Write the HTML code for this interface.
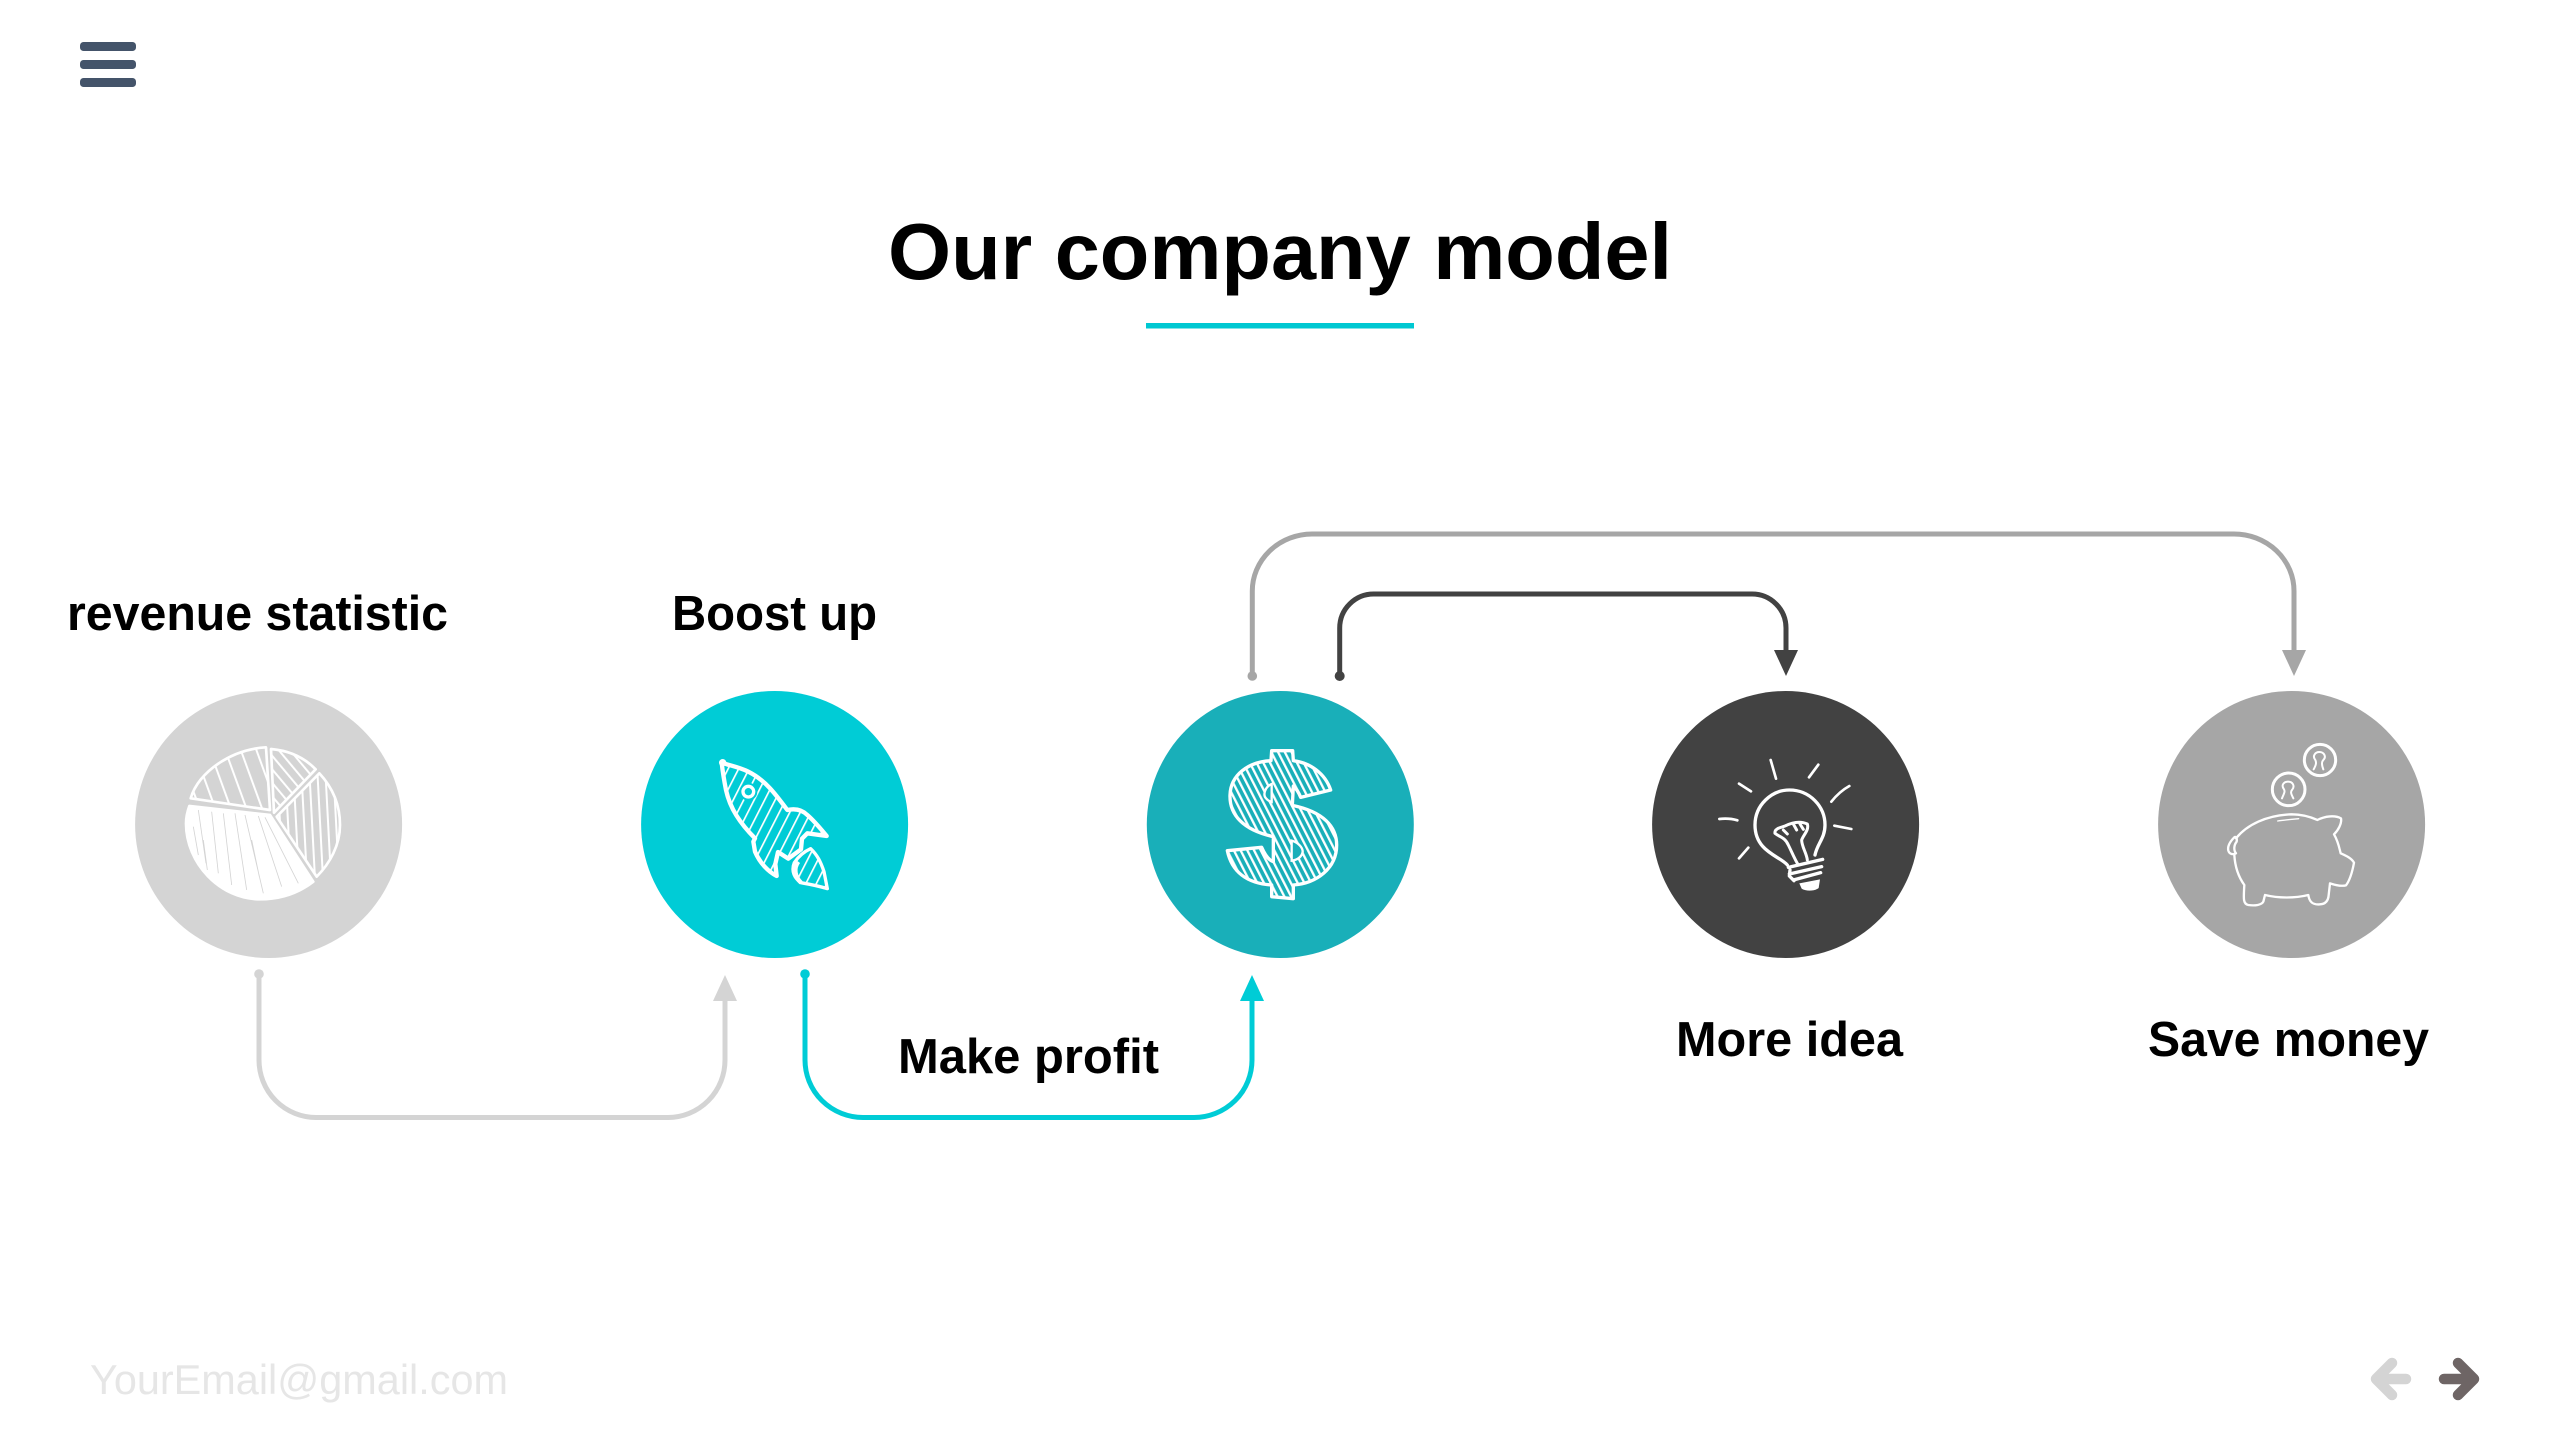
<!DOCTYPE html>
<html lang="en">
<head>
<meta charset="utf-8">
<title>Our company model</title>
<style>
html,body{margin:0;padding:0;background:#fff;width:2560px;height:1440px;overflow:hidden}
svg{display:block}
text{font-family:"Liberation Sans",sans-serif;font-weight:700;fill:#000}
</style>
</head>
<body>
<svg width="2560" height="1440" viewBox="0 0 2560 1440" xmlns="http://www.w3.org/2000/svg">
<defs>
<pattern id="pa" width="44" height="44" patternUnits="userSpaceOnUse" patternTransform="rotate(-20)"><rect width="6" height="44" fill="#fff"/></pattern>
<pattern id="pb" width="26" height="26" patternUnits="userSpaceOnUse" patternTransform="rotate(-40)"><rect width="6" height="26" fill="#fff"/></pattern>
<pattern id="pc" width="24" height="24" patternUnits="userSpaceOnUse" patternTransform="rotate(-3)"><rect width="6" height="24" fill="#fff"/></pattern>
<pattern id="pr" width="28" height="28" patternUnits="userSpaceOnUse" patternTransform="rotate(27)"><rect width="5" height="28" fill="#fff"/></pattern>
<pattern id="pd" width="18" height="18" patternUnits="userSpaceOnUse" patternTransform="rotate(-27)"><rect width="7" height="18" fill="#fff"/></pattern>
</defs>

<!-- hamburger -->
<g fill="#44546a">
<rect x="80" y="42" width="56" height="9" rx="3.5"/>
<rect x="80" y="60" width="56" height="9" rx="3.5"/>
<rect x="80" y="78" width="56" height="9" rx="3.5"/>
</g>

<!-- title -->
<text x="888" y="279" font-size="80" textLength="784" lengthAdjust="spacingAndGlyphs">Our company model</text>
<rect x="1146" y="323" width="268" height="5.5" fill="#00c8d2"/>

<!-- labels -->
<text x="67" y="630" font-size="49" textLength="381" lengthAdjust="spacingAndGlyphs">revenue statistic</text>
<text x="672" y="630" font-size="49" textLength="205" lengthAdjust="spacingAndGlyphs">Boost up</text>
<text x="898" y="1073" font-size="49" textLength="261" lengthAdjust="spacingAndGlyphs">Make profit</text>
<text x="1676" y="1056" font-size="49" textLength="227" lengthAdjust="spacingAndGlyphs">More idea</text>
<text x="2148" y="1056" font-size="49" textLength="281" lengthAdjust="spacingAndGlyphs">Save money</text>

<!-- circles -->
<circle cx="268.6" cy="824.5" r="133.5" fill="#d4d4d4"/>
<circle cx="774.6" cy="824.5" r="133.5" fill="#00ccd6"/>
<circle cx="1280.3" cy="824.5" r="133.5" fill="#19afb9"/>
<circle cx="1785.6" cy="824.5" r="133.5" fill="#424242"/>
<circle cx="2291.6" cy="824.5" r="133.5" fill="#a6a6a6"/>

<!-- connectors -->
<g fill="none" stroke-width="5">
<path d="M259 974V1060A57 57.5 0 0 0 316 1117.5H668A57 57.5 0 0 0 725 1060V1000" stroke="#d4d4d4"/>
<path d="M805 974V1060A58 57.5 0 0 0 863 1117.5H1194A58 57.5 0 0 0 1252 1060V1000" stroke="#00ccd6"/>
<path d="M1252.3 676V591A60 57 0 0 1 1312 534H2234A60 57 0 0 1 2294 591V651" stroke="#a6a6a6"/>
<path d="M1339.7 676V628A34 34 0 0 1 1374 594H1752A34 34 0 0 1 1786 628V651" stroke="#424242"/>
</g>
<circle cx="259" cy="974" r="4.8" fill="#d4d4d4"/>
<circle cx="805" cy="974" r="4.8" fill="#00ccd6"/>
<circle cx="1252.3" cy="676" r="4.8" fill="#a6a6a6"/>
<circle cx="1339.7" cy="676" r="5" fill="#424242"/>
<polygon points="725,975 737,1001 713,1001" fill="#d4d4d4"/>
<polygon points="1252,975 1264,1001 1240,1001" fill="#00ccd6"/>
<polygon points="1786,676 1798,650 1774,650" fill="#424242"/>
<polygon points="2294,676 2306,650 2282,650" fill="#a6a6a6"/>

<!-- pie icon -->
<g transform="translate(170 730) scale(.33333)" stroke="#fff" stroke-width="8" stroke-linejoin="round">
<path d="M62 205C85 125 185 58 288 52L300 240Z" fill="url(#pa)"/>
<path d="M303 57C360 62 405 85 437 118L312 248Z" fill="url(#pb)"/>
<path d="M448 130C490 175 510 225 510 285C510 345 480 400 440 440L320 260Z" fill="url(#pc)"/>
<path d="M58 228L300 255L430 455C385 490 330 508 270 508C150 508 48 400 48 280C48 260 52 245 58 228Z" fill="#fff"/>
<g stroke="#d4d4d4" stroke-width="2.5" fill="none">
<path d="M85 240L108 400M125 245L145 430M160 250L185 465M195 250L230 480M225 255L280 490M265 258L335 470M285 262L385 460M100 330L112 420M70 290L85 375M245 330L268 440"/>
</g>
</g>

<!-- rocket icon -->
<g transform="translate(700 740) scale(.33333)">
<path d="M65 68C95 78 120 82 145 95C195 120 225 160 262 210C285 205 305 208 322 225C345 245 365 270 380 288L322 280L306 296L303 328L265 356L234 336L226 372L230 408C205 395 180 370 165 335L160 305L165 295C120 250 90 205 78 150C72 120 68 95 65 68Z" fill="url(#pr)" stroke="#fff" stroke-width="13" stroke-linejoin="round"/>
<circle cx="145" cy="155" r="27" fill="#00ccd6"/>
<circle cx="145" cy="155" r="21" fill="#fff"/>
<circle cx="145" cy="155" r="11" fill="#00ccd6"/>
<path d="M382 446C350 436 325 432 302 428C285 415 272 395 283 368C295 350 312 335 332 326C352 345 362 365 372 395Z" fill="url(#pr)" stroke="#fff" stroke-width="10" stroke-linejoin="round"/>
<path d="M295 365C280 385 285 410 303 428" fill="none" stroke="#fff" stroke-width="13"/>
<circle cx="68" cy="68" r="11" fill="#fff"/>
</g>

<!-- dollar icon -->
<g transform="translate(1210 740) scale(.33333)">
<path d="M185 32L248 32L250 62C300 68 345 100 362 150L272 172C265 155 258 145 250 138L247 196C340 215 380 260 380 315C380 385 320 430 250 435L250 476L185 470L185 435C110 430 65 395 52 332L155 322C165 345 175 360 190 365L190 290C100 270 58 225 60 165C62 105 115 65 183 62Z" fill="url(#pd)" stroke="#fff" stroke-width="10" stroke-linejoin="round"/>
<path d="M185 132C165 140 158 165 168 175C172 180 178 184 185 186Z" fill="#19afb9" stroke="#fff" stroke-width="7"/>
<path d="M245 302C265 308 278 322 278 335C276 350 262 360 245 362Z" fill="#19afb9" stroke="#fff" stroke-width="7"/>
</g>

<!-- bulb icon -->
<g transform="translate(1700 750) scale(.33333)" fill="none" stroke="#fff" stroke-linecap="round" stroke-linejoin="round">
<path d="M262 345C240 318 165 305 165 225C165 165 215 120 268 120C330 120 375 170 375 225C375 265 352 280 345 315" stroke-width="10"/>
<path d="M225 250C222 235 245 232 255 228C275 218 300 212 322 222C328 240 310 255 305 270C305 290 320 310 322 330M225 250C240 262 255 262 265 285C275 305 285 330 295 345M250 240L262 252M280 222L290 240M300 222L310 238" stroke-width="9"/>
<path d="M265 352L368 328M268 372L365 350M280 390L362 368M270 360L268 378L282 392" stroke-width="10"/>
<path d="M298 400L360 388L356 414C345 424 315 424 305 416Z" fill="#fff" stroke="none"/>
<path d="M212 30L228 86M117 101L153 124M355 44L327 82M448 108C430 118 410 135 394 155M58 207C75 205 95 206 112 211M403 227L454 237M145 293L117 325" stroke-width="8"/>
</g>

<!-- piggy icon -->
<g transform="translate(2210 730) scale(.33333)" fill="none" stroke="#fff" stroke-linecap="round" stroke-linejoin="round">
<path d="M78 325C110 285 170 255 245 253C270 253 300 260 322 270C345 258 375 255 393 265C396 280 385 300 372 313C385 335 388 355 392 370C410 378 425 385 432 398C428 420 420 450 408 466C392 470 375 465 360 460L356 495C355 510 348 522 330 523C310 525 298 518 295 495C255 505 205 505 165 495L160 515C155 525 135 528 115 525C100 522 100 510 103 465C85 440 75 410 73 375" stroke-width="7"/>
<path d="M73 322C60 335 52 350 55 362C58 372 68 375 78 370C70 360 72 345 80 335C82 325 78 318 73 322Z" stroke-width="7"/>
<path d="M203 273C222 270 245 268 266 266" stroke-width="4"/>
<circle cx="236" cy="178" r="49" stroke-width="9"/>
<circle cx="330" cy="90" r="47" stroke-width="9"/>
<path d="M216 205C222 190 226 185 222 178C212 165 222 155 234 155C248 155 256 168 246 180C240 186 245 195 250 205" stroke-width="6"/>
<path d="M311 118C318 105 320 98 316 90C306 78 316 66 328 66C342 66 350 80 340 90C334 96 336 108 340 118" stroke-width="6"/>
</g>

<!-- footer -->
<text x="90" y="1394" font-size="42" textLength="418" lengthAdjust="spacingAndGlyphs" style="font-weight:400;fill:#e6e6e6">YourEmail@gmail.com</text>
<g fill="none" stroke-width="10.5" stroke-linecap="round" stroke-linejoin="round">
<path d="M2406 1379H2376M2392 1363L2376 1379L2392 1395" stroke="#d4d4d4"/>
<path d="M2444 1379H2474M2458 1363L2474 1379L2458 1395" stroke="#6e6565"/>
</g>
</svg>
</body>
</html>
